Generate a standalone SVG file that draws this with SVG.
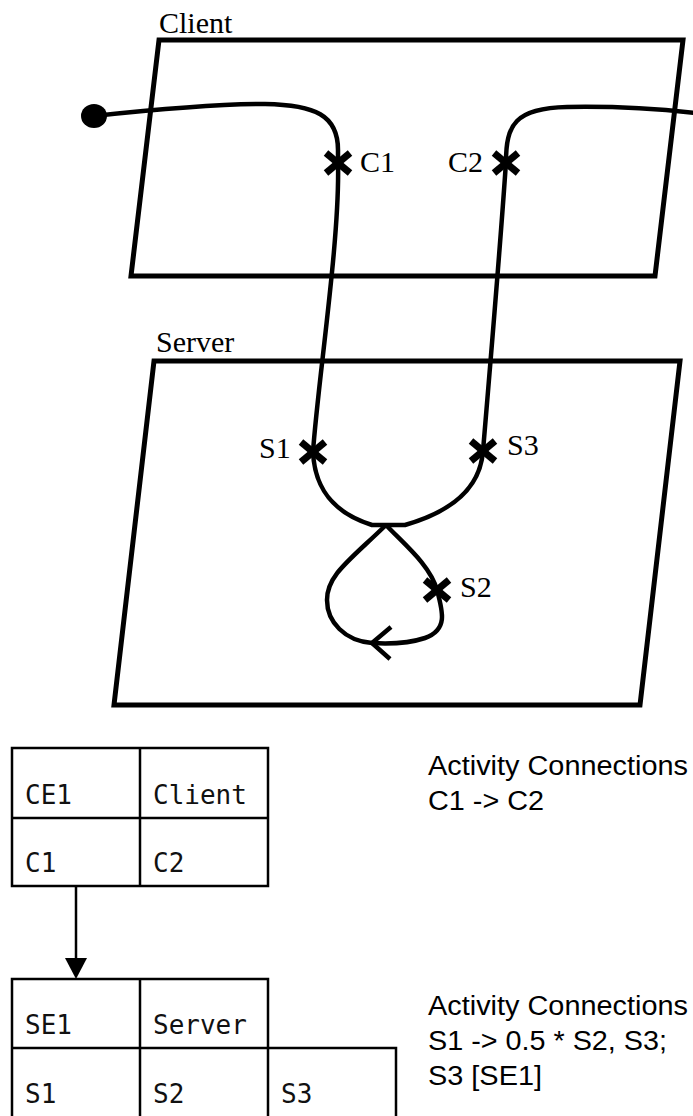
<svg xmlns="http://www.w3.org/2000/svg" width="693" height="1116" viewBox="0 0 693 1116">
<style>
.plane{fill:none;stroke:#000;stroke-width:5;stroke-linejoin:miter}
.flow{fill:none;stroke:#000;stroke-width:4.5;stroke-linecap:butt;stroke-linejoin:round}
.cross{stroke:#000;stroke-width:7;stroke-linecap:butt}
.lbl{font-family:"Liberation Serif","Times New Roman",serif;font-size:30px;fill:#000}
.cell{font-family:"DejaVu Sans Mono","Liberation Mono",monospace;font-size:26px;fill:#111}
.tbl{fill:none;stroke:#000;stroke-width:2.5}
.note{font-family:"Liberation Sans",Arial,sans-serif;font-size:27px;fill:#000}
</style>
<defs>
<g id="x"><line class="cross" x1="-12" y1="-10" x2="12" y2="10"/><line class="cross" x1="-12" y1="10" x2="12" y2="-10"/></g>
</defs>
<g id="client-plane">
<polygon class="plane" points="159,40 683,40 655,276 131,276"/>
<text class="lbl" x="159" y="33">Client</text>
</g>
<g id="server-plane">
<polygon class="plane" points="154,361 680,361 640,705 114,705"/>
<text class="lbl" x="156" y="352">Server</text>
</g>
<g id="connectors">
<ellipse cx="94" cy="116" rx="13" ry="12" fill="#000"/>
<path class="flow" d="M94,116 C150,110 220,104 265,104 C315,105 338,115 338,150 L338,163 C340,240 318,380 313,452 C315,495 340,515 372,525 L405,525 C450,512 480,490 483,451 C489,380 500,250 506,162 C506,125 515,108 567,107 C620,106 660,109 696,113"/>
<path class="flow" d="M386,525 C405,545 430,565 437,590 C443,612 448,630 425,638 C410,643 390,644 372,643 C345,641 327,622 327,600 C327,575 350,560 386,525"/>
<polyline class="flow" points="391,627 372,643 390,659"/>
</g>
<g id="C1"><use href="#x" x="338" y="163"/><text class="lbl" x="360" y="172">C1</text></g>
<g id="C2"><use href="#x" x="506" y="163"/><text class="lbl" x="448" y="172">C2</text></g>
<g id="S1"><use href="#x" x="313" y="452"/><text class="lbl" x="259" y="458">S1</text></g>
<g id="S3"><use href="#x" x="483" y="451"/><text class="lbl" x="507" y="455">S3</text></g>
<g id="S2"><use href="#x" x="437" y="590"/><text class="lbl" x="460" y="597">S2</text></g>
<g id="table-client">
<rect class="tbl" x="12" y="748" width="256" height="138"/>
<line class="tbl" x1="140" y1="748" x2="140" y2="886"/>
<line class="tbl" x1="12" y1="818" x2="268" y2="818"/>
<text class="cell" x="25" y="804">CE1</text>
<text class="cell" x="153" y="804">Client</text>
<text class="cell" x="25" y="872">C1</text>
<text class="cell" x="153" y="872">C2</text>
</g>
<g id="table-link">
<line class="tbl" x1="76" y1="886" x2="76" y2="960"/>
<polygon points="65,958 87,958 76,979" fill="#000"/>
</g>
<g id="table-server">
<polyline class="tbl" points="12,1120 12,979 268,979 268,1120"/>
<line class="tbl" x1="140" y1="979" x2="140" y2="1120"/>
<polyline class="tbl" points="12,1048 396,1048 396,1120"/>
<text class="cell" x="25" y="1034">SE1</text>
<text class="cell" x="153" y="1034">Server</text>
<text class="cell" x="25" y="1103">S1</text>
<text class="cell" x="153" y="1103">S2</text>
<text class="cell" x="281" y="1103">S3</text>
</g>
<g id="notes-client">
<text class="note" x="428" y="775" textLength="260" lengthAdjust="spacingAndGlyphs">Activity Connections</text>
<text class="note" x="428" y="810" textLength="116" lengthAdjust="spacingAndGlyphs">C1 -&gt; C2</text>
</g>
<g id="notes-server">
<text class="note" x="428" y="1015" textLength="260" lengthAdjust="spacingAndGlyphs">Activity Connections</text>
<text class="note" x="428" y="1050" textLength="239" lengthAdjust="spacingAndGlyphs">S1 -&gt; 0.5 * S2, S3;</text>
<text class="note" x="428" y="1085" textLength="114" lengthAdjust="spacingAndGlyphs">S3 [SE1]</text>
</g>
</svg>
